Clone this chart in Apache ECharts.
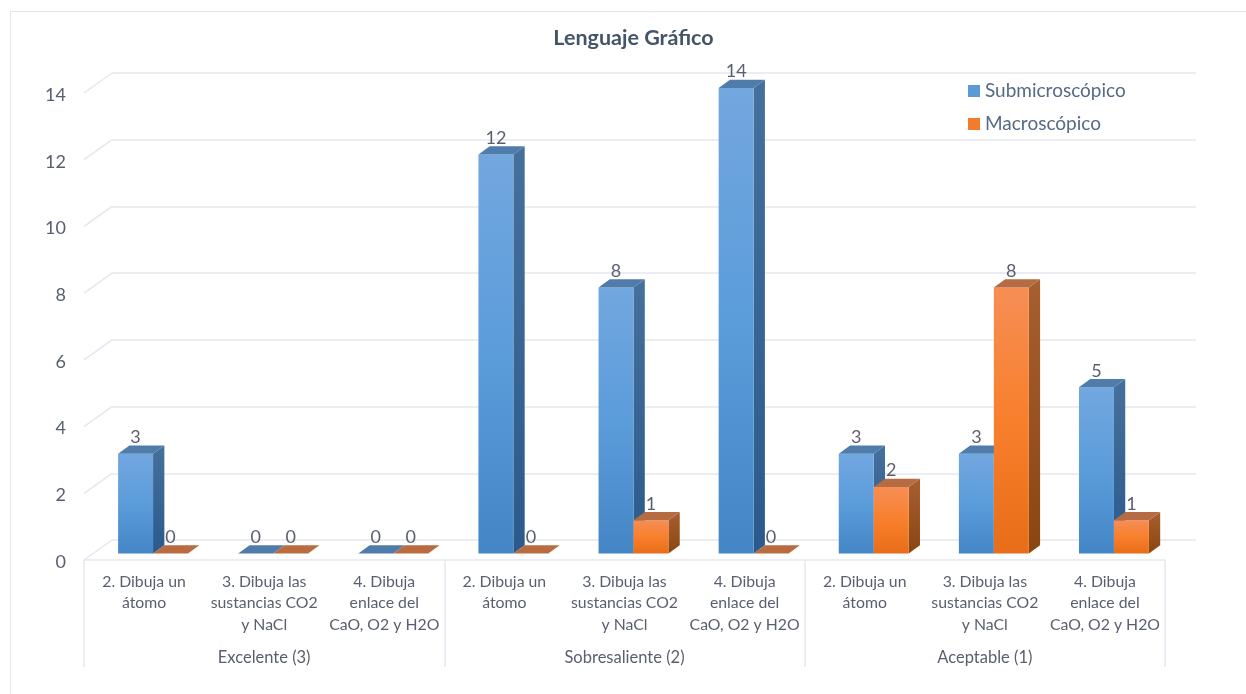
<!DOCTYPE html>
<html><head><meta charset="utf-8">
<style>html,body{margin:0;padding:0;background:#fff}#c{width:1246px;height:694px}</style>
<script src="https://cdn.jsdelivr.net/npm/echarts@6/dist/echarts.min.js"></script>
</head><body><div id="c"></div>
<script>
const categories = ['2. Dibuja un\nátomo','3. Dibuja las\nsustancias CO2\ny NaCl','4. Dibuja\nenlace del\nCaO, O2 y H2O','2. Dibuja un\nátomo','3. Dibuja las\nsustancias CO2\ny NaCl','4. Dibuja\nenlace del\nCaO, O2 y H2O','2. Dibuja un\nátomo','3. Dibuja las\nsustancias CO2\ny NaCl','4. Dibuja\nenlace del\nCaO, O2 y H2O'];
const groups = ['Excelente (3)','Sobresaliente (2)','Aceptable (1)'];
const submicroscopico = [3,0,0,12,8,14,3,3,5];
const macroscopico = [0,0,0,0,1,0,2,8,1];
const yTicks = [0,2,4,6,8,10,12,14];

const TXT='#595f6e', GRID='#e4e7ef';
const DX=11.3, DY=8.3, BAR_RATIO=0.291;
const blue={front:['#72a7df','#5b9cdb','#4485c6'],top:'#4f7cab',zero:'#4f7cab',side:['#46709c','#2a5a8c']};
const orange={front:['#f68e55','#f87f2c','#e86d18'],top:'#b66c42',zero:'#b96c40',side:['#a85f30','#8a4510']};
function grad(cols){return {type:'linear',x:0,y:0,x2:0,y2:1,colorStops:cols.map((c,i)=>({offset:i/(cols.length-1),color:c}))};}
function barItem(pal,side){
  return function(params,api){
    const i=api.value(0),v=api.value(1);
    const band=api.size([1,0])[0],w=band*BAR_RATIO;
    const base=api.coord([i,0]),top=api.coord([i,v]);
    const cx=base[0],x0=side<0?cx-w:cx,x1=x0+w,yb=base[1],yt=top[1];
    const kids=[];
    if(v>0){
      kids.push({type:'polygon',shape:{points:[[x1,yt],[x1+DX,yt-DY],[x1+DX,yb-DY],[x1,yb]]},style:{fill:grad(pal.side)}});
      kids.push({type:'rect',shape:{x:x0,y:yt,width:w,height:yb-yt},style:{fill:grad(pal.front)}});
    }
    kids.push({type:'polygon',shape:{points:[[x0,yt],[x1,yt],[x1+DX,yt-DY],[x0+DX,yt-DY]]},style:{fill:v>0?pal.top:pal.zero}});
    kids.push({type:'text',style:{text:String(v),x:(x0+x1)/2,y:yt-16.5,align:'center',verticalAlign:'middle',font:'18px Lato',fill:TXT}});
    return {type:'group',children:kids};
  };
}
const chart=echarts.init(document.getElementById('c'),null,{renderer:'canvas'});
chart.setOption({
  animation:false,backgroundColor:'#ffffff',
  title:{text:'Lenguaje Gráfico',left:628.5,top:22,textAlign:'center',textStyle:{fontFamily:'Lato',fontSize:21.5,fontWeight:'bold',color:'#44546a'}},
  legend:{left:963,top:76.5,orient:'vertical',itemWidth:12,itemHeight:12,itemGap:14,icon:'rect',
    textStyle:{fontFamily:'Lato',fontSize:19,color:'#566a85'},
    data:[{name:'Submicroscópico',itemStyle:{color:'#5b9bd5'}},{name:'Macroscópico',itemStyle:{color:'#f47b2c'}}]},
  grid:[{left:84,top:93,width:1081,height:467},{left:112,top:73,width:1084,height:467},{left:93,top:88,width:1081,height:465.5},{left:84,top:95,width:1081,height:467}],
  xAxis:[
    {type:'category',gridIndex:0,data:categories,axisTick:{show:false},axisLine:{lineStyle:{color:GRID,width:1.5}},
     axisLabel:{interval:0,margin:11,lineHeight:21.5,fontFamily:'Lato',fontSize:15.8,color:TXT,verticalAlign:'top'}},
    {type:'category',gridIndex:0,position:'bottom',data:groups,axisLine:{show:false},axisTick:{show:true,alignWithLabel:false,length:107,lineStyle:{color:GRID,width:1.5}},
     axisLabel:{interval:0,margin:89,fontFamily:'Lato',fontSize:16.5,color:TXT}},
    {type:'category',gridIndex:1,data:categories,show:false},
    {type:'category',gridIndex:2,data:categories,show:false},
    {type:'category',gridIndex:3,data:categories,show:false}
  ],
  yAxis:[
    {type:'value',gridIndex:0,min:0,max:14,interval:2,axisLine:{show:false},axisTick:{show:false},splitLine:{show:false},axisLabel:{show:false}},
    {type:'value',gridIndex:1,min:0,max:14,interval:2,axisLine:{show:false},axisTick:{show:false},axisLabel:{show:false},
     splitLine:{show:true,lineStyle:{color:GRID,width:1.5}}},
    {type:'value',gridIndex:2,min:0,max:14,interval:2,show:false},
    {type:'value',gridIndex:3,min:0,max:14,interval:2,axisLine:{show:false},axisTick:{show:false},splitLine:{show:false},
     axisLabel:{margin:18,fontFamily:'Lato',fontSize:18,color:TXT}}
  ],
  series:[
    {type:'custom',name:'wall',xAxisIndex:0,yAxisIndex:0,silent:true,encode:{x:0,y:1},
     data:yTicks.map(t=>[0,t]),z:1,
     renderItem(p,api){const c=api.coord([0,api.value(1)]);const x=c[0]-api.size([1,0])[0]/2;
       return {type:'line',shape:{x1:x,y1:c[1],x2:x+28,y2:c[1]-20},style:{stroke:GRID,lineWidth:1.5}};}},
    {type:'custom',name:'Submicroscópico',xAxisIndex:3,yAxisIndex:2,encode:{x:0,y:1},z:3,
     data:submicroscopico.map((v,i)=>[i,v]),renderItem:barItem(blue,-1),itemStyle:{color:'#5b9bd5'}},
    {type:'custom',name:'Macroscópico',xAxisIndex:3,yAxisIndex:2,encode:{x:0,y:1},z:4,
     data:macroscopico.map((v,i)=>[i,v]),renderItem:barItem(orange,1),itemStyle:{color:'#f47b2c'}}
  ],
  graphic:[
    {type:'line',shape:{x1:10,y1:11.5,x2:1246,y2:11.5},style:{stroke:'#e4e6ec',lineWidth:1}},
    {type:'line',shape:{x1:10.5,y1:11,x2:10.5,y2:694},style:{stroke:'#e4e6ec',lineWidth:1}}
  ]
});
</script></body></html>
